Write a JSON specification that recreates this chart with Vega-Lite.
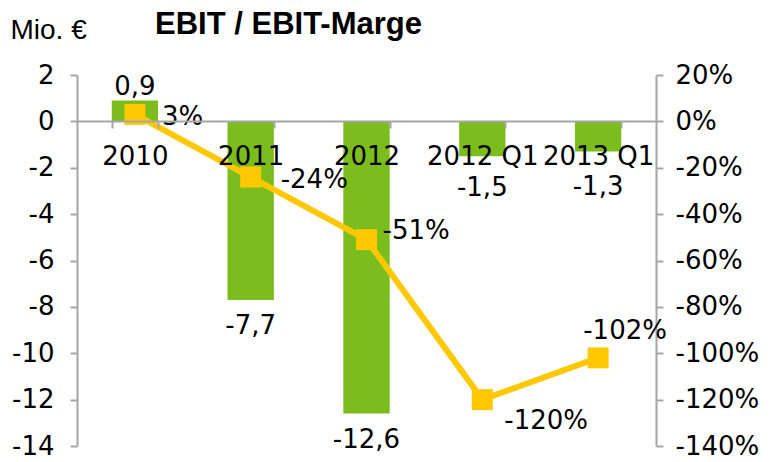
{
  "$schema": "https://vega.github.io/schema/vega-lite/v6.json",
  "width": 579,
  "height": 371,
  "autosize": "none",
  "padding": {"left": 77, "top": 75, "right": 118, "bottom": 16},
  "config": {
    "locale": {"number": {"decimal": ",", "thousands": ".", "grouping": [3], "currency": ["", " €"], "minus": "-"}},
    "view": {"stroke": null},
    "font": "DejaVu Sans",
    "text": {"font": "DejaVu Sans", "fontSize": 26, "color": "#000000"}
  },
  "title": {
    "text": "EBIT / EBIT-Marge",
    "anchor": "start",
    "frame": "group",
    "dx": 78,
    "dy": 25,
    "font": "Liberation Sans",
    "fontSize": 31,
    "fontWeight": "bold",
    "color": "#000000",
    "offset": 0
  },
  "data": {
    "values": [
      {"cat": "2010", "ebit": 0.9, "marge": 0.03},
      {"cat": "2011", "ebit": -7.7, "marge": -0.24},
      {"cat": "2012", "ebit": -12.6, "marge": -0.51},
      {"cat": "2012 Q1", "ebit": -1.5, "marge": -1.2},
      {"cat": "2013 Q1", "ebit": -1.3, "marge": -1.02}
    ]
  },
  "encoding": {
    "x": {
      "field": "cat",
      "type": "nominal",
      "sort": null,
      "scale": {"paddingInner": 0.6, "paddingOuter": 0.3},
      "axis": {
        "title": null,
        "orient": "bottom",
        "offset": -325,
        "labelAngle": 0,
        "labelFontSize": 26,
        "labelColor": "#000000",
        "labelPadding": 15,
        "labelOverlap": false,
        "labelFont": "DejaVu Sans",
        "tickBand": "extent",
        "tickSize": 7,
        "tickWidth": 2,
        "tickColor": "#A6A6A6",
        "domainColor": "#A6A6A6",
        "domainWidth": 2,
        "zindex": 1
      }
    }
  },
  "layer": [
    {
      "encoding": {
        "y": {
          "field": "ebit",
          "type": "quantitative",
          "scale": {"domain": [-14, 2], "nice": false},
          "axis": {
            "orient": "left",
            "values": [-14, -12, -10, -8, -6, -4, -2, 0, 2],
            "title": "Mio. €",
            "titleAngle": 0,
            "titleAlign": "left",
            "titleBaseline": "middle",
            "titleX": -67,
            "titleY": -45,
            "titleFont": "Liberation Sans",
            "titleFontSize": 28,
            "titleFontWeight": "normal",
            "titleColor": "#000000",
            "labelFontSize": 26,
            "labelColor": "#000000",
            "labelPadding": 16,
            "tickSize": 7,
            "tickWidth": 2,
            "tickColor": "#A6A6A6",
            "domainColor": "#A6A6A6",
            "domainWidth": 2,
            "grid": false
          }
        }
      },
      "layer": [
        {"mark": {"type": "bar", "color": "#7BBD1D"}},
        {
          "transform": [{"filter": "datum.ebit > 0"}],
          "mark": {"type": "text", "baseline": "alphabetic", "dy": -6},
          "encoding": {"text": {"field": "ebit", "type": "quantitative", "format": ".1f"}}
        },
        {
          "transform": [{"filter": "datum.cat == '2011' || datum.cat == '2012'"}],
          "mark": {"type": "text", "baseline": "top", "dy": 13},
          "encoding": {"text": {"field": "ebit", "type": "quantitative", "format": ".1f"}}
        },
        {
          "transform": [{"filter": "datum.cat == '2012 Q1'"}],
          "mark": {"type": "text", "baseline": "top", "dy": 19},
          "encoding": {"text": {"field": "ebit", "type": "quantitative", "format": ".1f"}}
        },
        {
          "transform": [{"filter": "datum.cat == '2013 Q1'"}],
          "mark": {"type": "text", "baseline": "top", "dy": 22},
          "encoding": {"text": {"field": "ebit", "type": "quantitative", "format": ".1f"}}
        }
      ]
    },
    {
      "encoding": {
        "y": {
          "field": "marge",
          "type": "quantitative",
          "scale": {"domain": [-1.4, 0.2], "nice": false, "zero": false},
          "axis": {
            "orient": "right",
            "values": [-1.4, -1.2, -1, -0.8, -0.6, -0.4, -0.2, 0, 0.2],
            "format": ".0%",
            "title": null,
            "labelFontSize": 26,
            "labelColor": "#000000",
            "labelPadding": 12,
            "tickSize": 7,
            "tickWidth": 2,
            "tickColor": "#A6A6A6",
            "domainColor": "#A6A6A6",
            "domainWidth": 2,
            "grid": false
          }
        }
      },
      "layer": [
        {"mark": {"type": "line", "color": "#FFC800", "strokeWidth": 6}},
        {"mark": {"type": "point", "shape": "square", "filled": true, "size": 441, "color": "#FFC800", "opacity": 1}},
        {
          "transform": [{"filter": "datum.cat == '2010'"}],
          "mark": {"type": "text", "align": "left", "baseline": "middle", "dx": 27, "dy": 3},
          "encoding": {"text": {"field": "marge", "type": "quantitative", "format": ".0%"}}
        },
        {
          "transform": [{"filter": "datum.cat == '2011'"}],
          "mark": {"type": "text", "align": "left", "baseline": "middle", "dx": 30, "dy": 3},
          "encoding": {"text": {"field": "marge", "type": "quantitative", "format": ".0%"}}
        },
        {
          "transform": [{"filter": "datum.cat == '2012'"}],
          "mark": {"type": "text", "align": "left", "baseline": "middle", "dx": 16, "dy": -9},
          "encoding": {"text": {"field": "marge", "type": "quantitative", "format": ".0%"}}
        },
        {
          "transform": [{"filter": "datum.cat == '2012 Q1'"}],
          "mark": {"type": "text", "align": "left", "baseline": "middle", "dx": 22, "dy": 21},
          "encoding": {"text": {"field": "marge", "type": "quantitative", "format": ".0%"}}
        },
        {
          "transform": [{"filter": "datum.cat == '2013 Q1'"}],
          "mark": {"type": "text", "align": "center", "baseline": "middle", "dx": 27, "dy": -27},
          "encoding": {"text": {"field": "marge", "type": "quantitative", "format": ".0%"}}
        }
      ]
    }
  ],
  "resolve": {"scale": {"y": "independent"}}
}
